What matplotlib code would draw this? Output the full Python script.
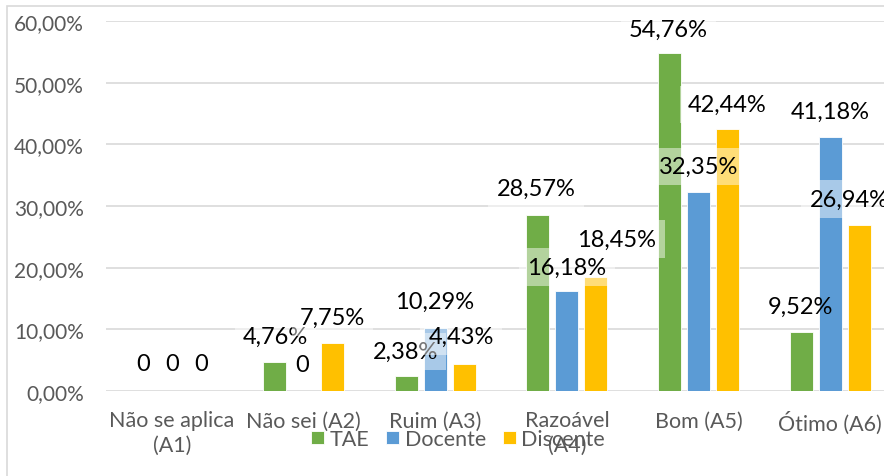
import numpy as np
import matplotlib.pyplot as plt
from matplotlib.patches import Rectangle

plt.rcParams['font.family'] = ['Lato', 'DejaVu Sans']

categorias = ['Não se aplica\n(A1)', 'Não sei (A2)', 'Ruim (A3)', 'Razoável\n(A4)', 'Bom (A5)', 'Ótimo (A6)']
series = ['TAE', 'Docente', 'Discente']
tae = [0, 4.76, 2.38, 28.57, 54.76, 9.52]
docente = [0, 0, 10.29, 16.18, 32.35, 41.18]
discente = [0, 7.75, 4.43, 18.45, 42.44, 26.94]
cores = ['#70AD47', '#5B9BD5', '#FFC000']

# rótulos arrastados no original (px): deslocamento horizontal e altura acima da barra
desloc_x = [[0, 1, -1, -2, -1, -1], [0, -1, -1, 0, 0, 0], [0, 0, -3, 21, 0, -10]]
desloc_y = [[27, 25, 25, 26, 24, 26], [27, 26, 26, 24, 25, 26], [27, 26, 27, 38, 25, 26]]
com_fundo = [[True, True, True, True, True, False], [True] * 6, [True] * 6]

W, H = 884, 477
fig = plt.figure(figsize=(W / 100, H / 100), dpi=100)

# borda do gráfico
fig.patches.append(Rectangle((7 / W, -0.1), 1.2, 1 - 7 / H + 0.1, transform=fig.transFigure,
                             fill=False, ec='#D9D9D9', lw=1.2))

ax = fig.add_axes([106 / W, 85 / H, 790 / W, 370 / H])
x = np.arange(len(categorias))
larg = 0.175
passo = 0.22

for i, (nome, vals) in enumerate(zip(series, [tae, docente, discente])):
    pos = x + (i - 1) * passo
    ax.bar(pos, vals, larg, color=cores[i], label=nome, edgecolor='white', lw=0.6, zorder=2)
    for j, v in enumerate(vals):
        txt = '0' if v == 0 else f'{v:.2f}%'.replace('.', ',')
        fundo = dict(boxstyle='square,pad=0.35', fc='white', ec='none', alpha=0.47) if com_fundo[i][j] else None
        ax.annotate(txt, (pos[j], v), xytext=(desloc_x[i][j] * 0.72, desloc_y[i][j] * 0.72),
                    textcoords='offset points', ha='center', va='center', fontsize=17,
                    color='black', zorder=5, annotation_clip=False, bbox=fundo)

ax.set_xlim(-0.5, len(categorias) - 0.5)
ax.set_ylim(0, 60)
ax.set_yticks(np.arange(0, 61, 10))
ax.set_yticklabels([f'{t:.2f}%'.replace('.', ',') for t in np.arange(0, 61, 10)])
ax.set_xticks(x)
ax.set_xticklabels(categorias, linespacing=1.25)
ax.tick_params(axis='both', length=0, labelsize=15, labelcolor='#595959')
ax.tick_params(axis='x', labelsize=15.5, pad=14)
ax.tick_params(axis='y', pad=16)
ax.grid(axis='y', color='#D9D9D9', lw=1.2, zorder=0)
for s in ax.spines.values():
    s.set_visible(False)

fig.legend(loc='center', bbox_to_anchor=(458 / W, 1 - 440 / H), ncol=3, frameon=False,
           fontsize=15.5, labelcolor='#595959', handlelength=0.6, handleheight=0.6,
           handletextpad=0.25, columnspacing=0.8)

fig.savefig('out.png', dpi=100)
